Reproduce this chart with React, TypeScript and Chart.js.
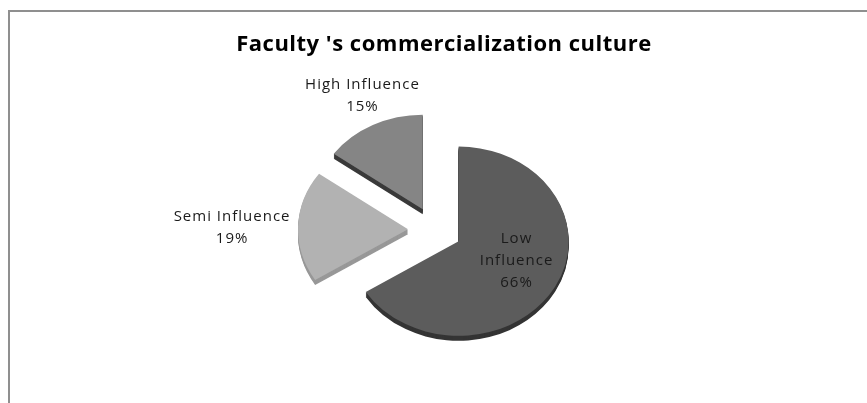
import React, { useEffect, useRef } from 'react';
import { Chart, registerables } from 'chart.js';

Chart.register(...registerables);

const TITLE = "Faculty 's commercialization culture";
const categories = ['Low Influence', 'Semi Influence', 'High Influence'];
const labelLines = [['Low', 'Influence'], ['Semi Influence'], ['High Influence']];
const values = [66, 19, 15];
const percentLabels = ['66%', '19%', '15%'];

const topColors = ['#5c5c5c', '#b2b2b2', '#858585'];
const sideColors = ['#343434', '#989898', '#3a3a3a'];

const SQUASH = 0.86;
const DEPTH = 5;
const EXPLODE = 27;
const LABEL_DIST = [64, 176, 134];
const LABEL_NUDGE = [
  [0, -8],
  [0, 3],
  [8, 2],
];
const FONT = '"Open Sans", "Noto Sans", sans-serif';

const pie3d = {
  id: 'pie3d',
  beforeDatasetsDraw(chart: any) {
    const ctx = chart.ctx as CanvasRenderingContext2D;
    const arcs = chart.getDatasetMeta(0).data as any[];
    if (!arcs.length) return false;
    const cx = arcs[0].x;
    const cy = arcs[0].y;
    ctx.save();
    ctx.translate(cx, cy);
    ctx.scale(1, SQUASH);
    ctx.translate(-cx, -cy);
    const drawArc = (arc: any, color: string, dy: number) => {
      const mid = (arc.startAngle + arc.endAngle) / 2;
      const o = arc.options;
      arc.options = { ...o, backgroundColor: color, borderColor: color, borderWidth: 0, offset: 0 };
      ctx.save();
      ctx.translate(Math.cos(mid) * EXPLODE, Math.sin(mid) * EXPLODE + dy);
      arc.draw(ctx);
      ctx.restore();
      arc.options = o;
    };
    for (let k = DEPTH; k >= 1; k--) {
      arcs.forEach((a, i) => drawArc(a, sideColors[i], k / SQUASH));
    }
    arcs.forEach((a, i) => drawArc(a, topColors[i], 0));
    ctx.restore();
    return false;
  },
  afterDraw(chart: any) {
    const ctx = chart.ctx as CanvasRenderingContext2D;
    const arcs = chart.getDatasetMeta(0).data as any[];
    ctx.save();
    ctx.fillStyle = '#000';
    ctx.textAlign = 'center';
    ctx.textBaseline = 'middle';
    ctx.font = `bold 22px ${FONT}`;
    (ctx as any).letterSpacing = '0.5px';
    ctx.fillText(TITLE, 444, 45);
    ctx.font = `15px ${FONT}`;
    (ctx as any).letterSpacing = '1px';
    ctx.fillStyle = '#1a1a1a';
    arcs.forEach((arc, i) => {
      const mid = (arc.startAngle + arc.endAngle) / 2;
      const cx = arc.x;
      const cy = arc.y;
      const vx = cx + Math.cos(mid) * EXPLODE;
      const vy = cy + Math.sin(mid) * EXPLODE * SQUASH;
      let dx = Math.cos(mid);
      let dy = Math.sin(mid) * SQUASH;
      const len = Math.hypot(dx, dy);
      dx /= len;
      dy /= len;
      const lx = vx + dx * LABEL_DIST[i] + LABEL_NUDGE[i][0];
      const ly = vy + dy * LABEL_DIST[i] + LABEL_NUDGE[i][1];
      const lines = [...labelLines[i], percentLabels[i]];
      const lh = 22;
      const top = ly - ((lines.length - 1) * lh) / 2;
      lines.forEach((t, j) => ctx.fillText(t, lx, top + j * lh));
    });
    ctx.restore();
  },
};

export default function App() {
  const ref = useRef<HTMLCanvasElement>(null);
  useEffect(() => {
    const chart = new Chart(ref.current as HTMLCanvasElement, {
      type: 'pie',
      data: {
        labels: categories,
        datasets: [
          {
            data: values,
            backgroundColor: topColors,
            borderWidth: 0,
            clip: false as any,
          },
        ],
      },
      options: {
        responsive: false,
        animation: false,
        events: [],
        radius: 110,
        layout: { padding: { left: 250, right: 247, top: 100, bottom: 43 } },
        plugins: {
          legend: { display: false },
          tooltip: { enabled: false },
          title: { display: false },
        },
      } as any,
      plugins: [pie3d],
    });
    return () => chart.destroy();
  }, []);
  return (
    <div style={{ position: 'fixed', left: 0, top: 0, width: 867, height: 403, background: '#fff', overflow: 'hidden' }}>
      <div
        style={{
          position: 'absolute',
          left: 8,
          top: 10,
          width: 1000,
          height: 1000,
          borderTop: '2px solid #8f8f8f',
          borderLeft: '2px solid #8f8f8f',
        }}
      />
      <canvas ref={ref} width={867} height={403} style={{ position: 'absolute', left: 0, top: 0, width: 867, height: 403 }} />
    </div>
  );
}
